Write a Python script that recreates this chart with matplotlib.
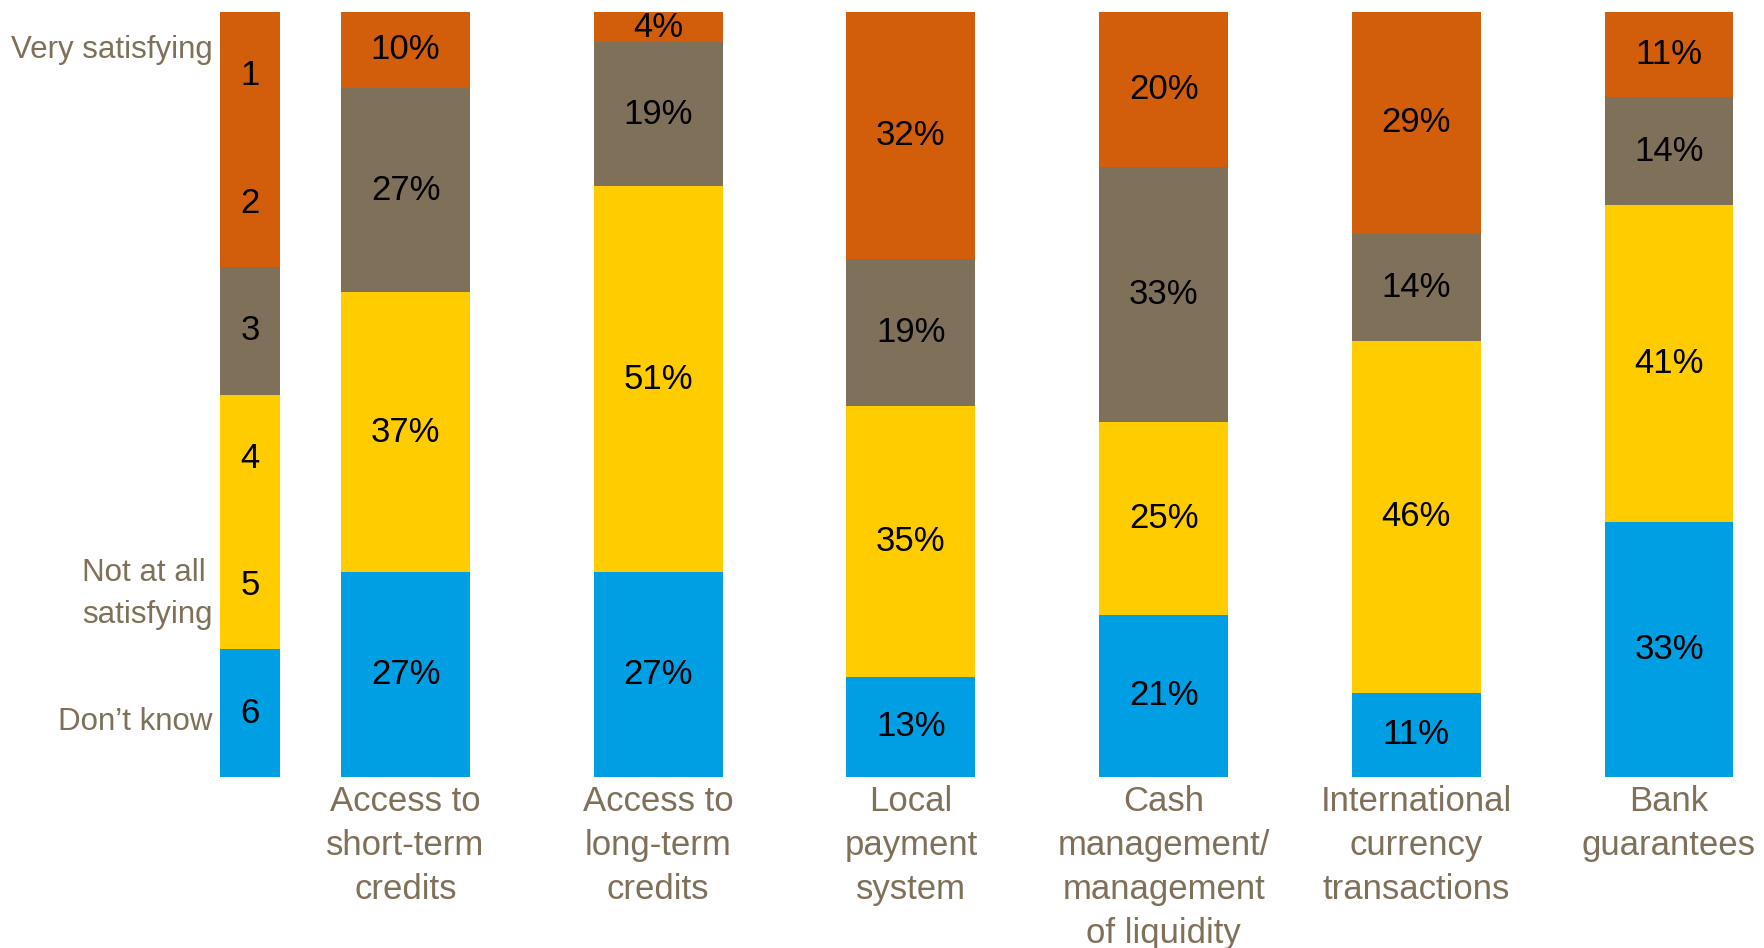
import matplotlib.pyplot as plt
import numpy as np

plt.rcParams['font.family'] = ['Liberation Sans', 'DejaVu Sans']

# categories and answers (top to bottom: 1-2, 3, 4-5, don't know)
categories = ['Access to\nshort-term\ncredits', 'Access to\nlong-term\ncredits', 'Local\npayment\nsystem',
              'Cash\nmanagement/\nmanagement\nof liquidity', 'International\ncurrency\ntransactions',
              'Bank\nguarantees']
very_satisfying = [10, 4, 32, 20, 29, 11]
rather_satisfying = [27, 19, 19, 33, 14, 14]
not_satisfying = [37, 51, 35, 25, 46, 41]
dont_know = [27, 27, 13, 21, 11, 33]

scale_labels = ['1', '2', '3', '4', '5', '6']
scale_names = ['Very satisfying', 'Not at all\nsatisfying', "Don\u2019t know"]

orange = '#D25E0C'
grey = '#7F7059'
yellow = '#FFCC00'
blue = '#009FE3'
scale_colors = [orange, orange, grey, yellow, yellow, blue]
text_col = '#7F7059'

fig = plt.figure(figsize=(17.64, 9.48), dpi=100)
ax = fig.add_axes([0, 0.1804, 1, 0.8069])

x = np.arange(len(categories))
series = [dont_know, not_satisfying, rather_satisfying, very_satisfying]
colors = [blue, yellow, grey, orange]
data = np.array(series, dtype=float)
totals = data.sum(axis=0)
norm = data / totals * 100

bottom = np.zeros(len(categories))
for vals, pct, col in zip(series, norm, colors):
    ax.bar(x, pct, bottom=bottom, width=0.51, color=col, edgecolor='none')
    for xi, b, p, v in zip(x, bottom, pct, vals):
        ax.text(xi, b + p / 2, f'{v}%', ha='center', va='center', fontsize=25, color='black')
    bottom += pct

# scale bar on the left
lx = -0.615
seg = 100 / len(scale_labels)
for i, (lab, col) in enumerate(zip(scale_labels, scale_colors)):
    b = 100 - (i + 1) * seg
    ax.bar(lx, seg, bottom=b, width=0.237, color=col, edgecolor='none')
    ax.text(lx, b + seg / 2, lab, ha='center', va='center', fontsize=25, color='black')

name_y = [95.0, 23.9, 7.2]
for name, yy in zip(scale_names, name_y):
    ax.text(lx - 0.15, yy, name, ha='right', va='center', fontsize=22.5, color=text_col,
            multialignment='left', linespacing=1.5)

ax.set_xlim(-1.605, 5.376)
ax.set_ylim(0, 100)
ax.set_xticks(x, categories, fontsize=25, color=text_col, linespacing=1.42)
ax.tick_params(axis='x', length=0, pad=6)
ax.set_yticks([])
for s in ax.spines.values():
    s.set_visible(False)

fig.savefig('out.png', dpi=100)
